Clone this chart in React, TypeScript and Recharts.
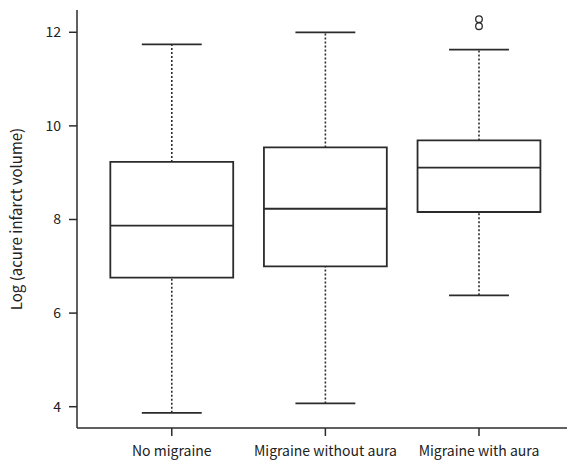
import { ComposedChart, XAxis, YAxis, Scatter, ReferenceArea, ReferenceLine } from 'recharts'

const groups = ['No migraine', 'Migraine without aura', 'Migraine with aura']
const lowerWhisker = [3.87, 4.07, 6.38]
const q1 = [6.76, 7.0, 8.16]
const median = [7.87, 8.23, 9.11]
const q3 = [9.23, 9.54, 9.69]
const upperWhisker = [11.74, 12.0, 11.63]
const outliers = [
  { x: 3, y: 12.28 },
  { x: 3, y: 12.13 },
]
const yTicks = [4, 6, 8, 10, 12]

const INK = '#2b2b2b'
const BOX_HALF = 0.4
const CAP_HALF = 0.195

const Ring = (p: any) => <circle cx={p.cx} cy={p.cy} r={3.3} fill="none" stroke={INK} strokeWidth={1.3} />

export default function App() {
  return (
    <div style={{ position: 'absolute', left: 0, top: 0, fontFamily: '"Noto Sans CJK KR", "Noto Sans", sans-serif' }}>
      <ComposedChart width={567} height={472} margin={{ top: 10, right: 0, bottom: 0, left: 0 }}>
        <XAxis
          type="number"
          dataKey="x"
          domain={[0.383, 3.573]}
          allowDataOverflow
          ticks={[1, 2, 3]}
          tickFormatter={(v: number) => groups[v - 1]}
          height={44}
          stroke={INK}
          strokeWidth={1.5}
          tickSize={8}
          tickMargin={10}
          tick={{ fill: '#222', fontSize: 14 }}
        />
        <YAxis
          type="number"
          domain={[3.545, 12.476]}
          allowDataOverflow
          ticks={yTicks}
          width={77}
          stroke={INK}
          strokeWidth={1.5}
          tickSize={8}
          tickMargin={8}
          tick={{ fill: '#222', fontSize: 14 }}
          label={{
            value: 'Log (acure infarct volume)',
            angle: -90,
            position: 'insideLeft',
            offset: 17,
            fill: '#222',
            fontSize: 15,
            style: { textAnchor: 'middle' },
          }}
        />
        {groups.map((_, i) => {
          const x = i + 1
          return [
            <ReferenceLine key={`lw${i}`} segment={[{ x, y: lowerWhisker[i] }, { x, y: q1[i] }]} stroke={INK} strokeWidth={1.6} strokeDasharray="2 2" />,
            <ReferenceLine key={`uw${i}`} segment={[{ x, y: q3[i] }, { x, y: upperWhisker[i] }]} stroke={INK} strokeWidth={1.6} strokeDasharray="2 2" />,
            <ReferenceLine key={`lc${i}`} segment={[{ x: x - CAP_HALF, y: lowerWhisker[i] }, { x: x + CAP_HALF, y: lowerWhisker[i] }]} stroke={INK} strokeWidth={1.8} />,
            <ReferenceLine key={`uc${i}`} segment={[{ x: x - CAP_HALF, y: upperWhisker[i] }, { x: x + CAP_HALF, y: upperWhisker[i] }]} stroke={INK} strokeWidth={1.8} />,
            <ReferenceArea key={`b${i}`} x1={x - BOX_HALF} x2={x + BOX_HALF} y1={q1[i]} y2={q3[i]} fill="#fff" fillOpacity={1} stroke={INK} strokeWidth={1.8} />,
            <ReferenceLine key={`m${i}`} segment={[{ x: x - BOX_HALF, y: median[i] }, { x: x + BOX_HALF, y: median[i] }]} stroke={INK} strokeWidth={1.8} />,
          ]
        })}
        <Scatter data={outliers} dataKey="y" shape={Ring} isAnimationActive={false} />
      </ComposedChart>
    </div>
  )
}
